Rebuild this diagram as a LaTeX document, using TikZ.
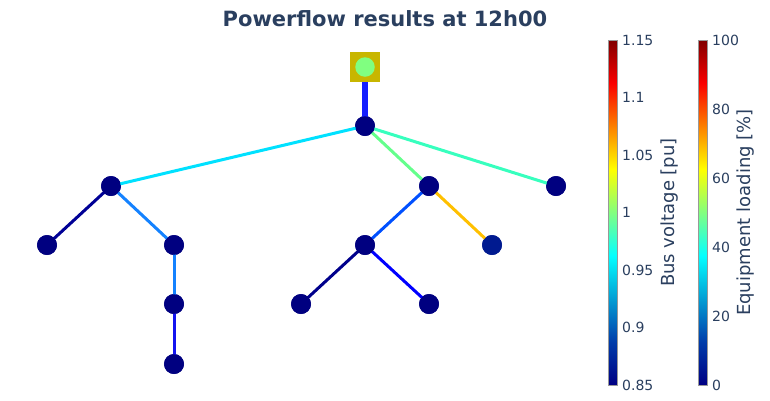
\documentclass[tikz,border=0pt]{standalone}
\usepackage{fontspec}
\setmainfont{DejaVu Sans}
\begin{document}
\begin{tikzpicture}[x=1pt,y=-1pt,
  bus/.style={circle,fill=busc,draw=busc,line width=0.5pt,minimum size=19.5pt,inner sep=0pt},
  ln/.style={line width=3pt},
  tick/.style={anchor=west,font=\fontsize{14}{14}\selectfont,text=txt,inner sep=0pt},
  cbtitle/.style={rotate=90,font=\fontsize{18}{18}\selectfont,text=txt,inner sep=0pt}]
\definecolor{txt}{HTML}{2A3F5F}
\definecolor{busc}{RGB}{0,0,128}
\definecolor{busb}{RGB}{0,26,144}
\definecolor{gridsq}{RGB}{200,182,0}
\definecolor{gridc}{RGB}{128,255,128}
\definecolor{jA}{RGB}{0,0,131}
\definecolor{jB}{RGB}{0,60,170}
\definecolor{jC}{RGB}{5,255,255}
\definecolor{jD}{RGB}{255,255,0}
\definecolor{jE}{RGB}{250,0,0}
\definecolor{jF}{RGB}{128,0,0}
\definecolor{cTr}{RGB}{20,30,255}
\definecolor{cCy}{RGB}{0,225,255}
\definecolor{cLg}{RGB}{100,255,140}
\definecolor{cAq}{RGB}{55,255,190}
\definecolor{cNv}{RGB}{0,0,150}
\definecolor{cMb}{RGB}{20,130,255}
\definecolor{cBl}{RGB}{20,20,240}
\definecolor{cB2}{RGB}{0,80,255}
\definecolor{cOr}{RGB}{255,192,0}
\definecolor{cNv2}{RGB}{0,0,140}
\definecolor{cBl2}{RGB}{0,0,255}
\useasboundingbox (0,0) rectangle (770,400);
\fill[white] (0,0) rectangle (770,400);
% title
\node[font=\bfseries\fontsize{21}{21}\selectfont,text=txt] (title) at (385,19) {Powerflow results at 12h00};
% nodes
\node[bus] (b0) at (365,126) {};
\node[bus] (b1) at (111,186) {};
\node[bus] (b2) at (429,186) {};
\node[bus] (b3) at (556,186) {};
\node[bus] (b4) at (47,245) {};
\node[bus] (b5) at (174,245) {};
\node[bus] (b6) at (365,245) {};
\node[bus,fill=busb,draw=busb] (b7) at (492,245) {};
\node[bus] (b8) at (174,304) {};
\node[bus] (b9) at (301,304) {};
\node[bus] (b10) at (429,304) {};
\node[bus] (b11) at (174,364) {};
\node[fill=gridsq,minimum size=30pt,inner sep=0pt] (grid) at (365,67) {};
% edges
\draw[line width=6pt,cTr] (grid.center) -- (b0.center);
\draw[ln,cCy] (b0.center) -- (b1.center);
\draw[ln,cLg] (b0.center) -- (b2.center);
\draw[ln,cAq] (b0.center) -- (b3.center);
\draw[ln,cNv] (b1.center) -- (b4.center);
\draw[ln,cMb] (b1.center) -- (b5.center);
\draw[ln,cMb] (b5.center) -- (b8.center);
\draw[ln,cBl] (b8.center) -- (b11.center);
\draw[ln,cB2] (b2.center) -- (b6.center);
\draw[ln,cOr] (b2.center) -- (b7.center);
\draw[ln,cNv2] (b6.center) -- (b9.center);
\draw[ln,cBl2] (b6.center) -- (b10.center);
% redraw nodes on top
\foreach \n/\x/\y in {b0/365/126,b1/111/186,b2/429/186,b3/556/186,b4/47/245,b5/174/245,b6/365/245,b8/174/304,b9/301/304,b10/429/304,b11/174/364}
  \fill[busc] (\x,\y) circle (9.75);
\fill[busb] (492,245) circle (9.75);
\fill[gridsq] (350,52) rectangle (380,82);
\node[circle,fill=gridc,minimum size=19.5pt,inner sep=0pt] (gridbus) at (365,67) {};
% colorbar 1
\shade[bottom color=jA,top color=jB] (608,385) rectangle (617,341.875);
\shade[bottom color=jB,top color=jC] (608,341.875) rectangle (617,255.625);
\shade[bottom color=jC,top color=jD] (608,255.625) rectangle (617,169.375);
\shade[bottom color=jD,top color=jE] (608,169.375) rectangle (617,83.125);
\shade[bottom color=jE,top color=jF] (608,83.125) rectangle (617,40);
\draw[gray!80,line width=1pt] (608,40) rectangle (617,385);
\node[tick] (v115) at (622,40) {1.15};
\node[tick] (v110) at (622,97.5) {1.1};
\node[tick] (v105) at (622,155) {1.05};
\node[tick] (v100) at (622,212.5) {1};
\node[tick] (v095) at (622,270) {0.95};
\node[tick] (v090) at (622,327.5) {0.9};
\node[tick] (v085) at (622,385) {0.85};
\node[cbtitle] (vt) at (670,212.5) {Bus voltage [pu]};
% colorbar 2
\shade[bottom color=jA,top color=jB] (698,385) rectangle (707,341.875);
\shade[bottom color=jB,top color=jC] (698,341.875) rectangle (707,255.625);
\shade[bottom color=jC,top color=jD] (698,255.625) rectangle (707,169.375);
\shade[bottom color=jD,top color=jE] (698,169.375) rectangle (707,83.125);
\shade[bottom color=jE,top color=jF] (698,83.125) rectangle (707,40);
\draw[gray!80,line width=1pt] (698,40) rectangle (707,385);
\node[tick] (l100) at (712,40) {100};
\node[tick] (l80) at (712,109) {80};
\node[tick] (l60) at (712,178) {60};
\node[tick] (l40) at (712,247) {40};
\node[tick] (l20) at (712,316) {20};
\node[tick] (l0) at (712,385) {0};
\node[cbtitle] (lt) at (746,212.5) {Equipment loading [\%]};
\end{tikzpicture}
\end{document}
